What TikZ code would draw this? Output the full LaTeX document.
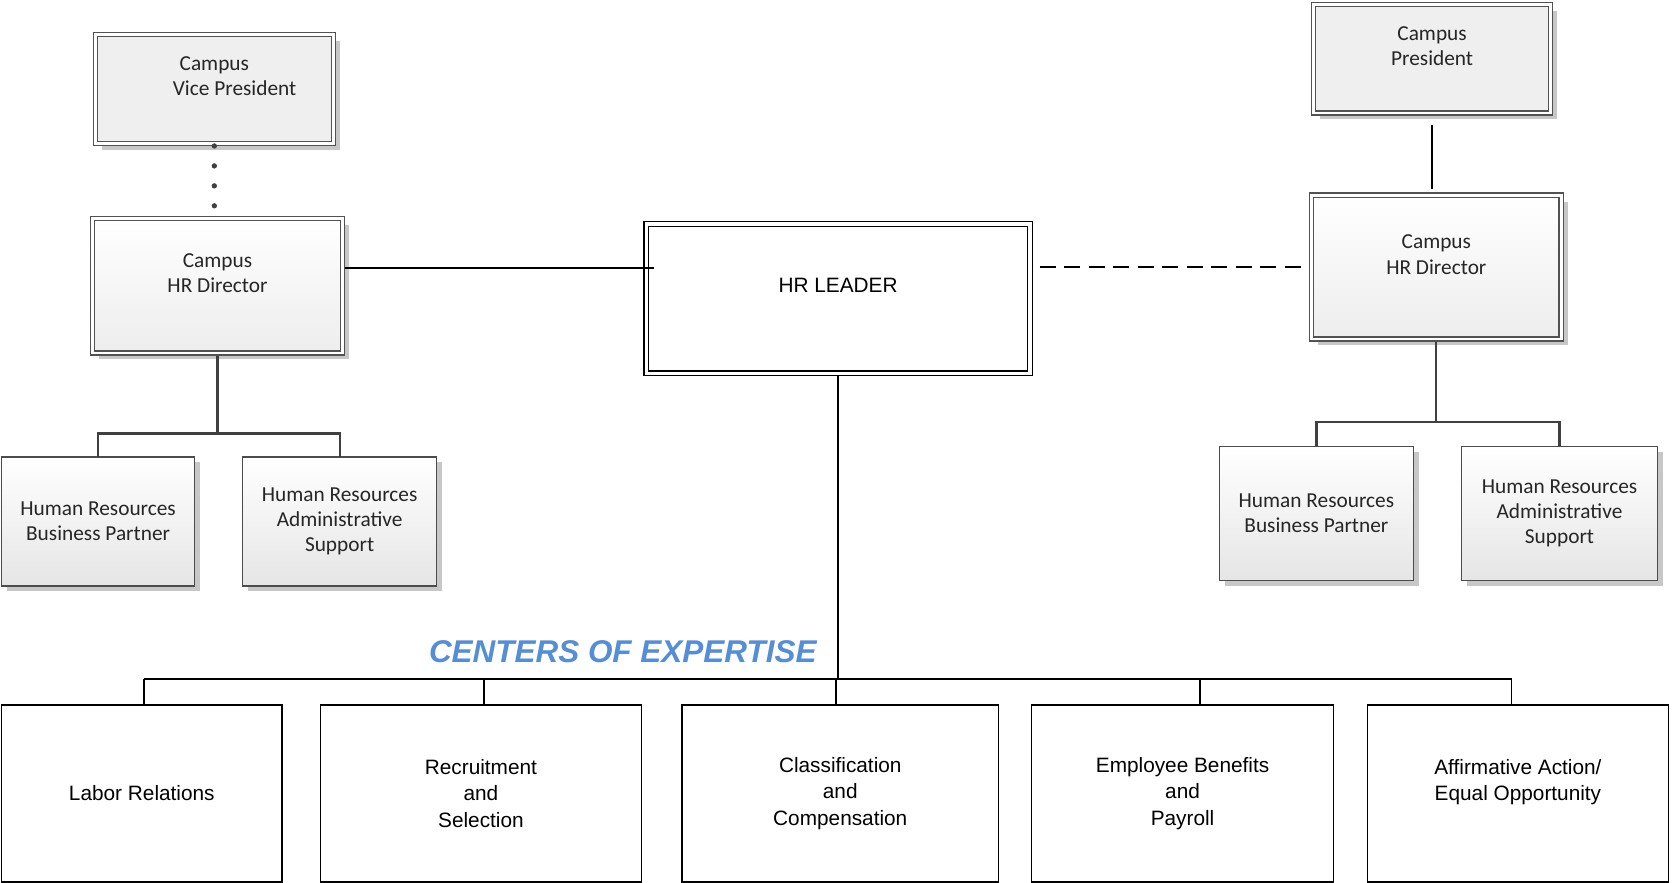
\documentclass[tikz,border=0pt]{standalone}
\usepackage{fontspec}
\setmainfont{Carlito}
\newfontfamily\arialfont{Liberation Sans}
\usepackage{xcolor}
\usepackage{tikz}
\usetikzlibrary{positioning,calc,shadows}

\definecolor{coeblue}{RGB}{85,142,213}
\definecolor{boxgray}{RGB}{239,239,239}
\definecolor{treegray}{RGB}{64,64,64}

\begin{document}
\begin{tikzpicture}[x=1pt,y=1pt,
					every node/.style={
						rectangle, outer sep=0pt, inner sep=2pt, align=center
					},
					headbox/.style={
						draw=black!68, line width=1.2pt, double=white, double distance=2.6pt,
						fill=boxgray, text=black!85,
						drop shadow={shadow xshift=6pt, shadow yshift=-6pt, fill=black!22, opacity=1},
						font=\fontsize{20}{23.5}\selectfont
					},
					hrbox/.style={
						headbox, top color=white, bottom color=black!7
					},
					staffbox/.style={
						draw=black!70, line width=1.3pt, top color=white, bottom color=black!10, text=black!85,
						drop shadow={shadow xshift=5pt, shadow yshift=-5pt, fill=black!22, opacity=1},
						font=\fontsize{20}{23.5}\selectfont
					},
					leaderbox/.style={
						draw=black, line width=1.2pt, double=white, double distance=3pt, fill=white,
						font=\arialfont\fontsize{19.5}{25}\selectfont
					},
					coebox/.style={
						draw=black, line width=1.4pt, fill=white,
						font=\arialfont\fontsize{19.5}{25}\selectfont
					},
					tree/.style={draw=treegray, line width=2.1pt},
					link/.style={draw=black, line width=1.8pt},
					dots/.style={draw=treegray, line width=5pt, line cap=round, dash pattern=on 0pt off 18.7pt}
					]
					\useasboundingbox (0,0) rectangle (1568,828);
					
					% Campus VP side (left)
					\node[headbox, minimum width=223pt, minimum height=102pt] (vp) at (201,744.5)
						{Campus\\\hspace*{38pt}Vice President\\~};
					\node[hrbox, minimum width=234pt, minimum height=126pt] (hrdl) at (204,560)
						{Campus\\HR Director\\~};
					\node[staffbox, minimum width=181pt, minimum height=121pt] (hrbpl) at (92,339)
						{Human Resources\\Business Partner};
					\node[staffbox, minimum width=182pt, minimum height=121pt] (hrasl) at (318.5,339)
						{Human Resources\\Administrative\\Support};
					
					% HR Leader
					\node[leaderbox, minimum width=360pt, minimum height=140pt] (leader) at (786,548) {HR LEADER\\~};
					
					% Campus President side (right)
					\node[headbox, minimum width=222pt, minimum height=102pt] (pres) at (1343,773)
						{Campus\\President\\~};
					\node[hrbox, minimum width=234pt, minimum height=135pt] (hrdr) at (1347,577.5)
						{Campus\\HR Director\\~};
					\node[staffbox, minimum width=182pt, minimum height=126pt] (hrbpr) at (1234.5,346.5)
						{Human Resources\\Business Partner};
					\node[staffbox, minimum width=184pt, minimum height=126pt] (hrasr) at (1462.5,346.5)
						{Human Resources\\Administrative\\Support};
					
					% Centers of expertise
					\node[text=coeblue, font=\arialfont\bfseries\itshape\fontsize{29.5}{30}\selectfont] (coe) at (584,217)
						{CENTERS OF EXPERTISE};
					\node[coebox, minimum width=263pt, minimum height=166pt] (labor) at (133,84) {Labor Relations};
					\node[coebox, minimum width=301pt, minimum height=166pt] (recruit) at (451,84) {Recruitment\\and\\Selection};
					\node[coebox, minimum width=297pt, minimum height=166pt] (classif) at (788,84) {Classification\\and\\Compensation};
					\node[coebox, minimum width=283pt, minimum height=166pt] (benefit) at (1109,84) {Employee Benefits\\and\\Payroll};
					\node[coebox, minimum width=282pt, minimum height=166pt] (affirm) at (1423.5,84) {Affirmative Action/\\Equal Opportunity\\~};
					
					% Verbindungen links
					\draw[dots] ([yshift=-2.4pt]vp.south) -- (vp.south |- hrdl.north);
					\draw[tree] ([yshift=-2.4pt]hrdl.south) |- ([yshift=22pt]hrbpl.north) -- (hrbpl.north);
					\draw[tree] ([yshift=-2.4pt]hrdl.south) |- ([yshift=22pt]hrasl.north) -- (hrasl.north);
					\coordinate (tieL) at ($(hrdl.east)+(2.4,17)$);
					\draw[link] (tieL) -- ($(tieL -| leader.west)+(7,0)$);
					
					% Verbindungen rechts
					\draw[link, dash pattern=on 15pt off 8pt] ($(leader.east |- hrdr.west)+(9,0)$) -- ([xshift=-2.4pt]hrdr.west);
					\draw[link] ([yshift=-11.5pt]pres.south) -- ($(hrdr.north -| pres.south)+(0,6)$);
					\draw[tree] ([yshift=-2.4pt]hrdr.south) |- ([yshift=23pt]hrbpr.north) -- (hrbpr.north);
					\draw[tree] ([yshift=-2.4pt]hrdr.south) |- ([yshift=23pt]hrasr.north) -- (hrasr.north);
					
					% Verbindungen unten
					\coordinate (barL) at ($(labor.north)+(2,24)$);
					\coordinate (barR) at ($(affirm.north)+(-6,24)$);
					\draw[link] ([yshift=-2.5pt]leader.south) -- (leader.south |- barL);
					\draw[link] (barL) -- (barR);
					\foreach \b/\dx in {labor/2,recruit/3,classif/-4,benefit/16,affirm/-6}
						\draw[link] ($(\b.north)+(\dx,0)$) -- ($(\b.north)+(\dx,24)$);
				\end{tikzpicture}
\end{document}
